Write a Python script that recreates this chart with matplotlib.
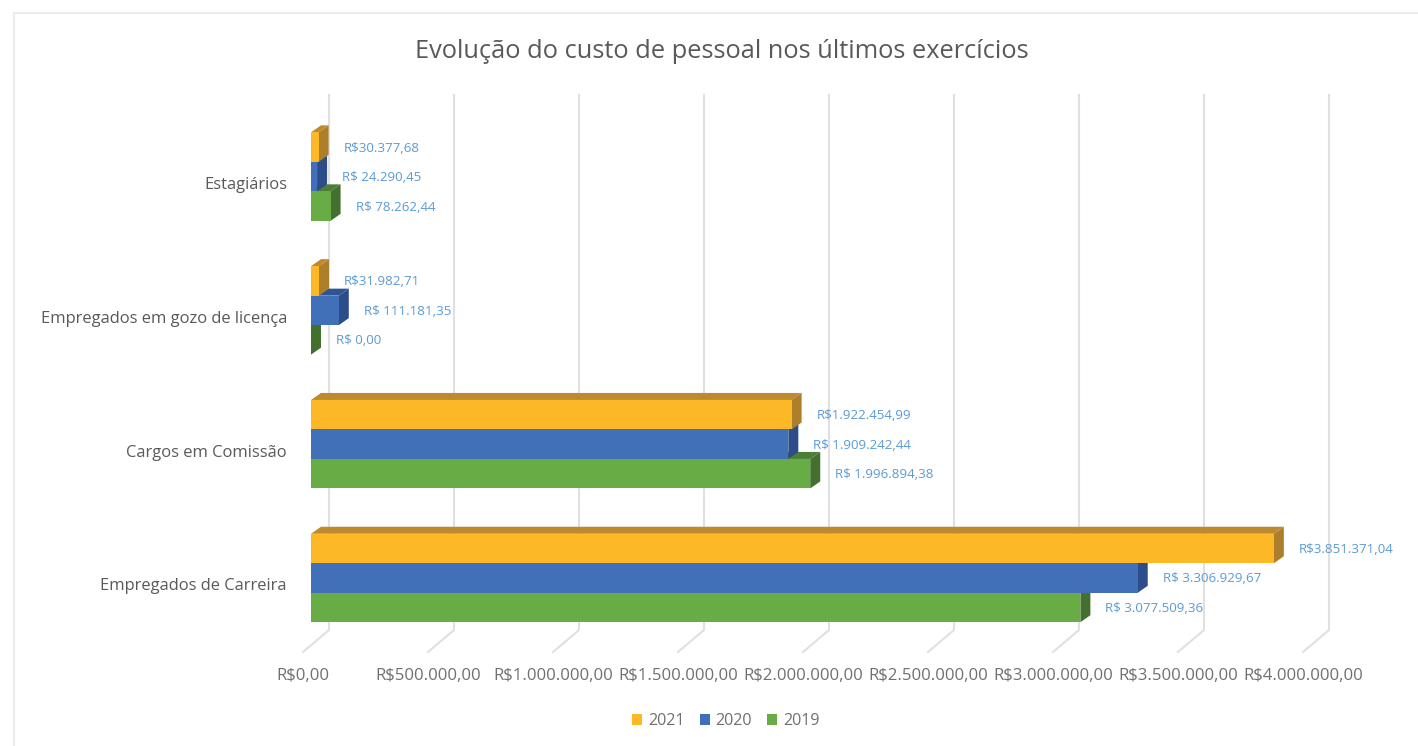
import matplotlib
matplotlib.use("Agg")
import matplotlib.pyplot as plt
from matplotlib.patches import Polygon
from matplotlib.lines import Line2D
from matplotlib.transforms import Affine2D

plt.rcParams['font.family'] = ['Open Sans', 'DejaVu Sans']

categories = ["Empregados de Carreira", "Cargos em Comissão",
              "Empregados em gozo de licença", "Estagiários"]
years = ["2019", "2020", "2021"]
values_2019 = [3077509.36, 1996894.38, 0.00, 78262.44]
values_2020 = [3306929.67, 1909242.44, 111181.35, 24290.45]
values_2021 = [3851371.04, 1922454.99, 31982.71, 30377.68]
label_prefix = {"2019": "R$ ", "2020": "R$ ", "2021": "R$"}
x_ticks = [0, 500000, 1000000, 1500000, 2000000, 2500000, 3000000, 3500000, 4000000]

W, H = 1418, 746
PX_X = 1000 / 4e6          # px per unit
PX_Y = 133.8               # px per category
Y0_PX = 578                # px of category 0 centre

def fy(p):
    return 1 - p / H

fig = plt.figure(figsize=(W / 100, H / 100), dpi=100, facecolor="white")
bottom_px = Y0_PX + 0.5 * PX_Y
top_px = Y0_PX - 3.5 * PX_Y
ax = fig.add_axes([311 / W, fy(bottom_px), 1000 / W, (bottom_px - top_px) / H])
ax.set_xlim(0, 4e6)
ax.set_ylim(-0.5, 3.5)
ax.patch.set_alpha(0)
for s in ax.spines.values():
    s.set_visible(False)

# gridlines: back wall + floor
for t in x_ticks:
    x_front = 311 + t * PX_X
    ax.add_line(Line2D([x_front + 18, x_front + 18, x_front - 8],
                       [fy(95) * H, fy(630) * H, fy(652) * H],
                       transform=Affine2D(), color="#e0e0e0", lw=1.5, zorder=1,
                       clip_on=False))

bar_h = 29.5 / PX_Y
dx = 10 / PX_X
dy = 7 / PX_Y
styles = {
    "2019": dict(front="#68AC46", top="#4C7F35", side="#43702E", off=-bar_h, z=3, vals=values_2019),
    "2020": dict(front="#4270B8", top="#2F5597", side="#2C4C8A", off=0.0, z=4, vals=values_2020),
    "2021": dict(front="#FDB827", top="#BE8A30", side="#AD7F2A", off=bar_h, z=5, vals=values_2021),
}

def brl(v):
    s = f"{v:,.2f}"
    return s.replace(",", "X").replace(".", ",").replace("X", ".")

handles = {}
for yr in years:
    st = styles[yr]
    for i, v in enumerate(st["vals"]):
        yc = i + st["off"]
        y1, y2 = yc - bar_h / 2, yc + bar_h / 2
        ax.add_patch(Polygon([(0, y2), (v, y2), (v + dx, y2 + dy), (dx, y2 + dy)],
                             facecolor=st["top"], edgecolor="none", zorder=st["z"], clip_on=False))
        ax.add_patch(Polygon([(v, y1), (v, y2), (v + dx, y2 + dy), (v + dx, y1 + dy)],
                             facecolor=st["side"], edgecolor="none", zorder=st["z"], clip_on=False))
        ax.text(v + 25 / PX_X, yc - 1 / PX_Y, label_prefix[yr] + brl(v), color="#5B9BD5", fontsize=9.6,
                va="center", ha="left", zorder=8, clip_on=False)
    handles[yr] = ax.barh([i + st["off"] for i in range(4)], st["vals"], height=bar_h,
                          color=st["front"], zorder=st["z"] + 0.5, label=yr)

ax.set_xticks(x_ticks)
ax.set_xticklabels(["R$" + brl(t) for t in x_ticks], fontsize=12.1, color="#707070")
ax.tick_params(axis="x", length=0, pad=(676 - 8 - bottom_px) * 0.72)
for lab in ax.get_xticklabels():
    lab.set_transform(lab.get_transform() + Affine2D().translate(-8, 0))
ax.set_yticks(range(4))
ax.set_yticklabels(categories, fontsize=11.85, color="#595959")
ax.tick_params(axis="y", length=0, pad=24 * 0.72)
for lab in ax.get_yticklabels():
    lab.set_transform(lab.get_transform() + Affine2D().translate(0, -6.5))

fig.text(722 / W, fy(51), "Evolução do custo de pessoal nos últimos exercícios",
         ha="center", va="center", fontsize=18.3, color="#595959")

leg = fig.legend([handles["2021"], handles["2020"], handles["2019"]], ["2021", "2020", "2019"],
                 loc="center", bbox_to_anchor=(726 / W, fy(721)), ncol=3, frameon=False,
                 fontsize=11.6, labelcolor="#707070", handlelength=0.62, handleheight=0.62,
                 handletextpad=0.36, columnspacing=0.95)

# chart frame
fig.add_artist(Line2D([14 / W, 14 / W, 1], [0, fy(13), fy(13)], color="#ececec", lw=1.5))

fig.savefig("out.png", dpi=100, facecolor="white")
